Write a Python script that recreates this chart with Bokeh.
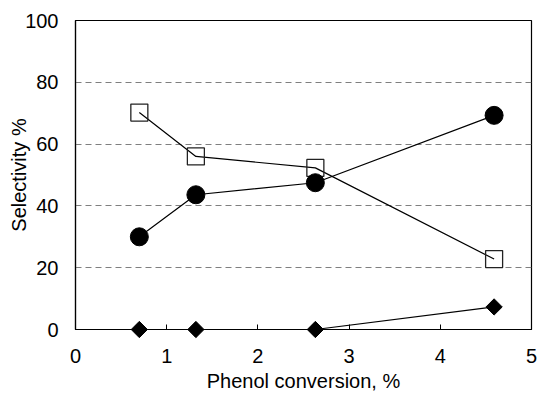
import numpy as np
from bokeh.plotting import figure
from bokeh.models import FixedTicker, Range1d
from bokeh.embed import file_html
from bokeh.resources import INLINE

# Phenol conversion (%) for each run
conv_a = [0.7, 1.32, 2.63, 4.59]
# Selectivity series (%)
sel_square = [70.2, 56.0, 52.3, 22.8]
sel_circle = [30.0, 43.6, 47.5, 69.3]
sel_diamond = [0.0, 0.0, 0.0, 7.3]

x_ticks = [0, 1, 2, 3, 4, 5]
y_ticks = [0, 20, 40, 60, 80, 100]

FONT = "Liberation Sans"
FS = "20px"

p = figure(width=538, height=395, output_backend="svg", toolbar_location=None,
           x_range=Range1d(0, 5), y_range=Range1d(0, 100))
p.min_border_left = 75
p.min_border_right = 7
p.min_border_top = 20
p.min_border_bottom = 66
p.background_fill_color = "white"
p.border_fill_color = "white"
p.outline_line_color = "black"
p.outline_line_width = 1.2

# axes
p.xaxis.ticker = FixedTicker(ticks=x_ticks)
p.yaxis.ticker = FixedTicker(ticks=y_ticks)
for ax in (p.xaxis[0], p.yaxis[0]):
    ax.axis_line_color = "black"
    ax.axis_line_width = 1.2
    ax.major_tick_in = 5
    ax.major_tick_out = 0
    ax.minor_tick_in = 0
    ax.minor_tick_out = 0
    ax.major_tick_line_color = "black"
    ax.major_label_text_font = FONT
    ax.major_label_text_font_size = FS
    ax.major_label_text_color = "black"
    ax.axis_label_text_font = FONT
    ax.axis_label_text_font_size = FS
    ax.axis_label_text_font_style = "normal"
    ax.axis_label_text_color = "black"
p.yaxis.major_tick_line_color = None
p.xaxis.axis_label = "Phenol conversion, %"
p.yaxis.axis_label = "Selectivity %"
p.xaxis.major_label_standoff = 19
p.yaxis.major_label_standoff = 17
p.xaxis.axis_label_standoff = 4
p.yaxis.axis_label_standoff = -8

# dashed horizontal grid only
p.xgrid.grid_line_color = None
p.ygrid.ticker = FixedTicker(ticks=[20, 40, 60, 80])
p.ygrid.grid_line_color = "#7f7f7f"
p.ygrid.grid_line_dash = "6 4"
p.ygrid.grid_line_width = 1.2

# series: open squares
p.line(conv_a, sel_square, line_color="black", line_width=1.2)
p.scatter(conv_a, sel_square, marker="square", size=17, fill_color=None,
          line_color="#222222", line_width=1.3)

# filled circles
p.line(conv_a, sel_circle, line_color="black", line_width=1.2)
p.scatter(conv_a, sel_circle, marker="circle", size=18, fill_color="black",
          line_color="black")

# filled diamonds (overlay level so the ones sitting on the axis show fully)
p.line(conv_a, sel_diamond, line_color="black", line_width=1.2, level="overlay")
p.scatter(conv_a, sel_diamond, marker="square", angle=np.pi / 4, size=11.5,
          fill_color="black", line_color="black", level="overlay")

open("out.html", "w").write(file_html(p, INLINE))
